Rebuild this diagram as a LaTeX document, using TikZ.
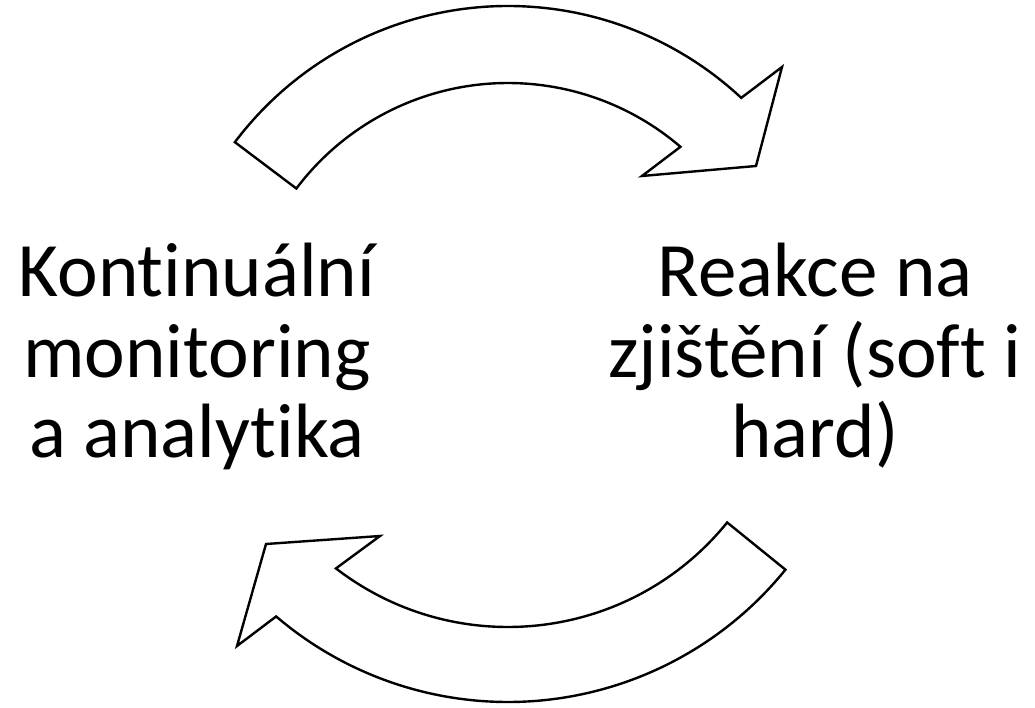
\documentclass[tikz,border=0pt]{standalone}
\usepackage{fontspec}
\setmainfont[RawFeature={-liga;-clig;-dlig}]{Carlito}
\usetikzlibrary{calc}
\begin{document}
\begin{tikzpicture}[x=1pt,y=1pt,
  blockarrow/.style={draw=black,line width=2.4pt,fill=white,line join=miter},
  label/.style={align=center,inner sep=0pt,anchor=base,font=\fontsize{77}{80.5}\selectfont}]
\useasboundingbox (0,0) rectangle (1035,707);
% top arrow
\coordinate (c1) at (508,359);
\coordinate (t1o) at ($(c1)+(143:342)$);
\coordinate (t1i) at ($(c1)+(49.4:265)$);
\coordinate (h1a) at (782,640);
\coordinate (h1b) at (756,541);
\coordinate (h1c) at (642,531);
\draw[blockarrow] (t1o) arc[start angle=143,end angle=47,radius=342]
  -- (h1a) -- (h1b) -- (h1c) -- (t1i)
  arc[start angle=49.4,end angle=143,radius=265] -- cycle;
% bottom arrow
\coordinate (c2) at (508,362);
\coordinate (t2o) at ($(c2)+(-39:357)$);
\coordinate (t2i) at ($(c2)+(-127.6:282)$);
\coordinate (h2a) at (237,61);
\coordinate (h2b) at (266,163);
\coordinate (h2c) at (380,171);
\draw[blockarrow] (t2o) arc[start angle=-39,end angle=-130.5,radius=357]
  -- (h2a) -- (h2b) -- (h2c) -- (t2i)
  arc[start angle=-127.6,end angle=-39,radius=282] -- cycle;
% labels (anchor at baseline of last line)
\node[label] (left) at (197,249) {Kontinuální\\monitoring\\a analytika};
\node[label] (right) at (815,249) {Reakce na\\zjištění (soft i\\hard)};
\end{tikzpicture}
\end{document}
